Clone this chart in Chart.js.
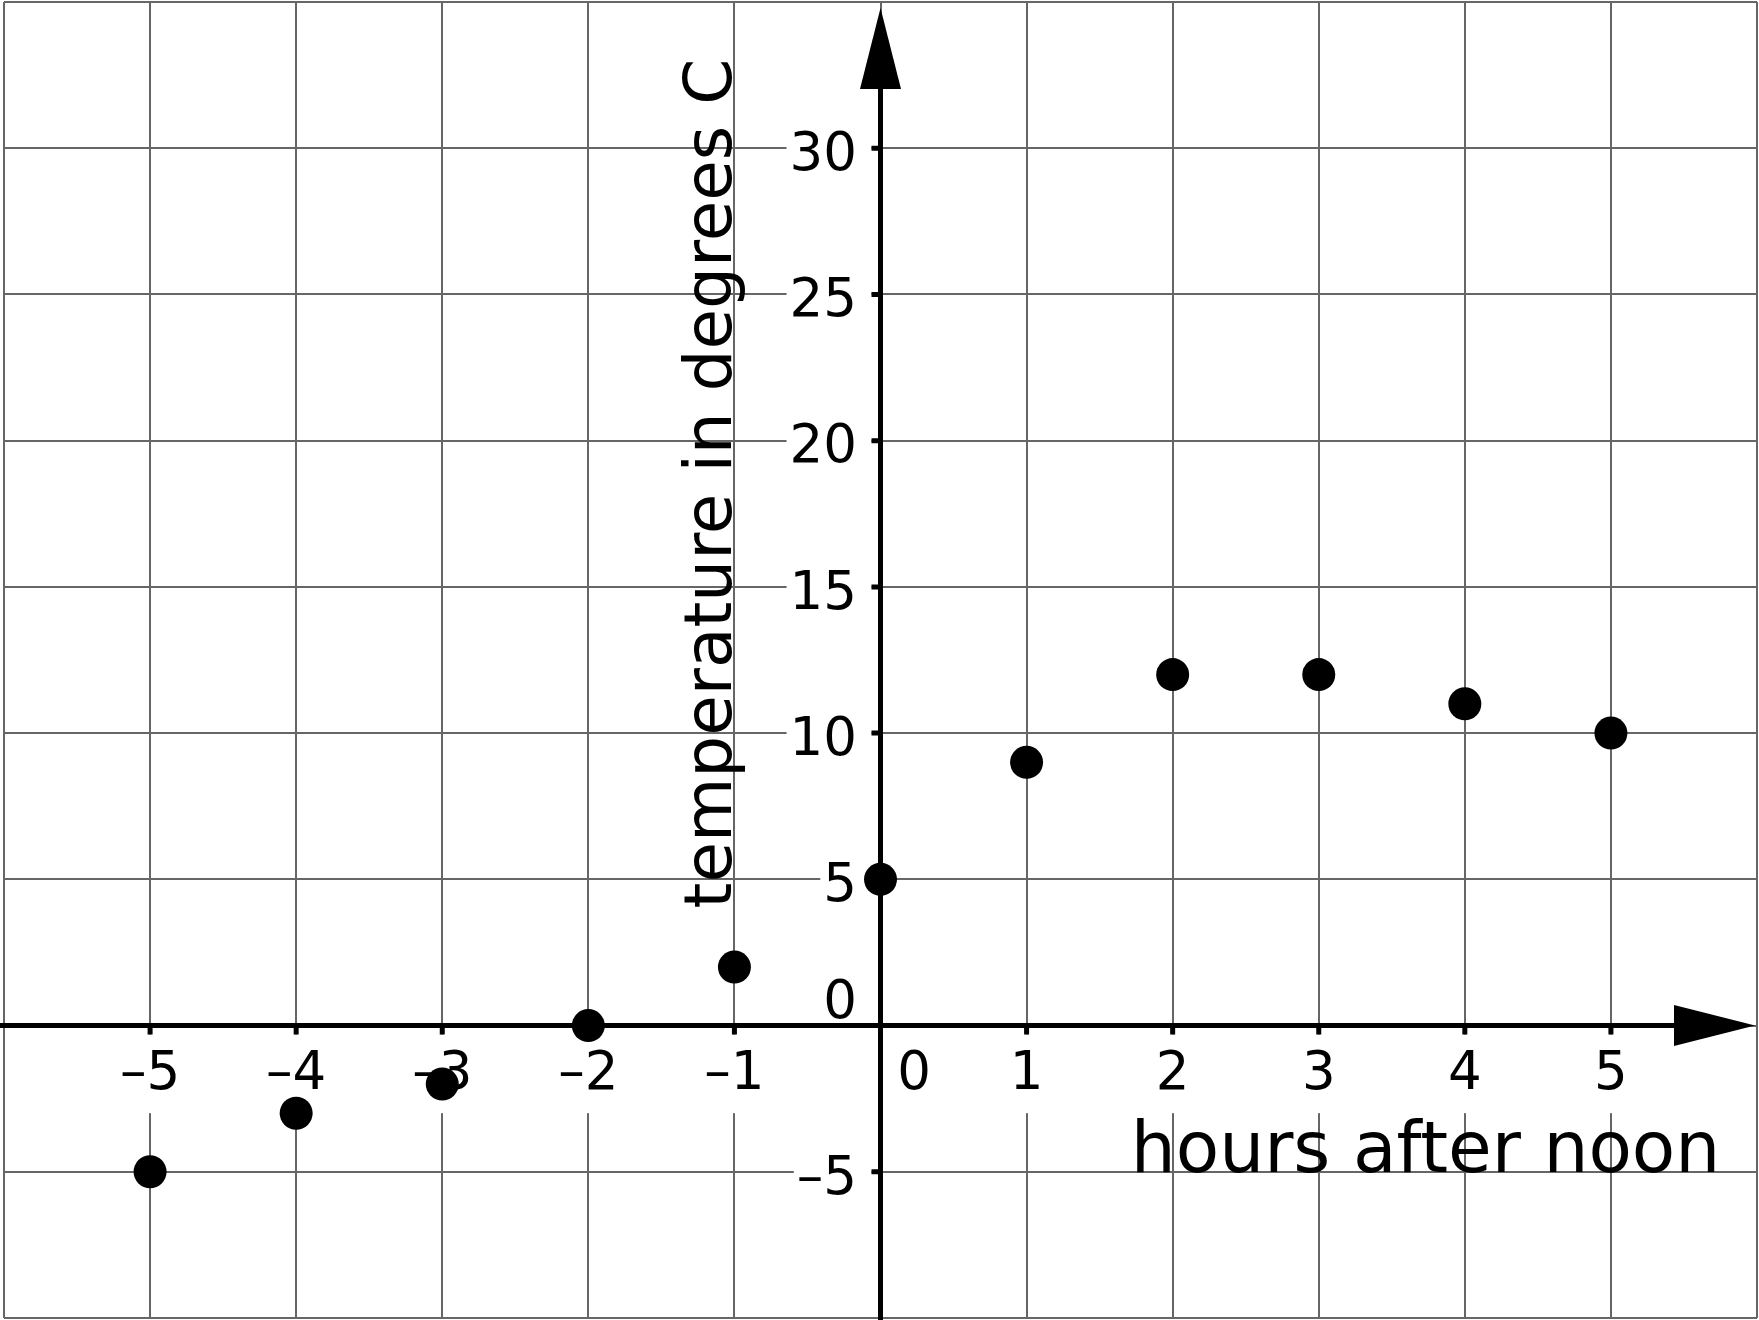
<!DOCTYPE html>
<html>
<head>
<meta charset="utf-8">
<title>Temperature after noon</title>
<script src="https://cdn.jsdelivr.net/npm/chart.js@4"></script>
<style>
html,body{margin:0;padding:0;background:#fff}
canvas{display:block}
</style>
</head>
<body>
<canvas id="chart" width="1759" height="1320"></canvas>
<script>
// data
const hours = [-5, -4, -3, -2, -1, 0, 1, 2, 3, 4, 5];
const temps = [-5, -3, -2, 0, 2, 5, 9, 12, 12, 11, 10];
const xTicks = [-5, -4, -3, -2, -1, 1, 2, 3, 4, 5];
const yTicks = [-5, 5, 10, 15, 20, 25, 30];
const zeroLabel = '0';
const xTitle = 'hours after noon';
const yTitle = 'temperature in degrees C';

const FONT = 'DejaVu Sans';
const GRID = '#666666';

function tickText(v, list){
  if (!list.includes(v)) return '';
  return v < 0 ? '\u2013' + (-v) : String(v);
}
function noPad(s){ s.paddingLeft = s.paddingRight = s.paddingTop = s.paddingBottom = 0; }

// axes with arrows and tick marks, the two zero labels and the axis titles
const axesPlugin = {
  id: 'axes',
  beforeDraw(chart){
    // y labels sit left of the axis, not on it
    chart.scales.y.getLabelItems(chart.chartArea).forEach(it => { it.options.translation[0] -= 23.5; });
  },
  beforeDatasetsDraw(chart){
    const {ctx, chartArea: a, scales: {x, y}} = chart;
    const x0 = x.getPixelForValue(0), y0 = y.getPixelForValue(0);
    ctx.save();
    ctx.strokeStyle = '#000'; ctx.fillStyle = '#000'; ctx.lineWidth = 5;

    ctx.beginPath(); ctx.moveTo(x0, chart.height); ctx.lineTo(x0, a.top + 60); ctx.stroke();
    ctx.beginPath();
    ctx.moveTo(x0, a.top + 6); ctx.lineTo(x0 - 20.5, a.top + 87); ctx.lineTo(x0 + 20.5, a.top + 87);
    ctx.closePath(); ctx.fill();

    ctx.beginPath(); ctx.moveTo(0, y0); ctx.lineTo(a.right - 60, y0); ctx.stroke();
    ctx.beginPath();
    ctx.moveTo(a.right - 2, y0); ctx.lineTo(a.right - 83, y0 - 20.5); ctx.lineTo(a.right - 83, y0 + 20.5);
    ctx.closePath(); ctx.fill();

    ctx.beginPath();
    xTicks.forEach(v => { const px = x.getPixelForValue(v); ctx.moveTo(px, y0); ctx.lineTo(px, y0 + 9); });
    yTicks.forEach(v => { const py = y.getPixelForValue(v); ctx.moveTo(x0, py); ctx.lineTo(x0 - 9, py); });
    ctx.stroke();

    ctx.font = '53px "' + FONT + '"';
    ctx.textBaseline = 'middle';
    ctx.textAlign = 'right';
    ctx.fillText(zeroLabel, x0 - 23.5, y0 - 21.5);
    ctx.textAlign = 'center';
    ctx.fillText(zeroLabel, x0 + 33.7, y0 + 50);

    ctx.textBaseline = 'alphabetic';
    ctx.font = '71px "' + FONT + '"';
    ctx.fillText(xTitle, x0 + 545, y.getPixelForValue(-5));
    ctx.font = '66px "' + FONT + '"';
    ctx.translate(x0 - 150, y0 - 542);
    ctx.rotate(-Math.PI / 2);
    ctx.fillText(yTitle, 0, 0);
    ctx.restore();
  }
};

new Chart(document.getElementById('chart'), {
  type: 'scatter',
  data: {
    datasets: [{
      data: hours.map((h, i) => ({x: h, y: temps[i]})),
      pointRadius: 16.5,
      pointHoverRadius: 16.5,
      backgroundColor: '#000',
      borderWidth: 0
    }]
  },
  options: {
    responsive: false,
    devicePixelRatio: 1,
    animation: false,
    layout: {autoPadding: false, padding: {left: 4, right: 2, top: 2, bottom: 2}},
    plugins: {legend: {display: false}, tooltip: {enabled: false}},
    scales: {
      x: {
        type: 'linear', min: -6, max: 6, position: {y: 0},
        afterFit: noPad,
        border: {display: false},
        grid: {color: GRID, lineWidth: 2, drawTicks: false},
        ticks: {
          stepSize: 1, autoSkip: false, maxRotation: 0, padding: 18, color: '#000',
          font: {family: FONT, size: 53},
          callback: v => tickText(v, xTicks),
          showLabelBackdrop: true,
          backdropColor: c => (c.tick && xTicks.includes(c.tick.value)) ? '#fff' : 'rgba(0,0,0,0)',
          backdropPadding: {top: 9, bottom: 6, left: 4, right: 4}
        }
      },
      y: {
        type: 'linear', min: -10, max: 35, position: {x: 0},
        afterFit: noPad,
        border: {display: false},
        grid: {color: GRID, lineWidth: 2, drawTicks: false},
        ticks: {
          stepSize: 5, autoSkip: false, padding: 0, labelOffset: 8, color: '#000',
          font: {family: FONT, size: 53},
          callback: v => tickText(v, yTicks),
          showLabelBackdrop: true,
          backdropColor: c => (c.tick && yTicks.includes(c.tick.value)) ? '#fff' : 'rgba(0,0,0,0)',
          backdropPadding: {top: 4, bottom: 4, left: 3, right: 14.5}
        }
      }
    }
  },
  plugins: [axesPlugin]
});
</script>
</body>
</html>
